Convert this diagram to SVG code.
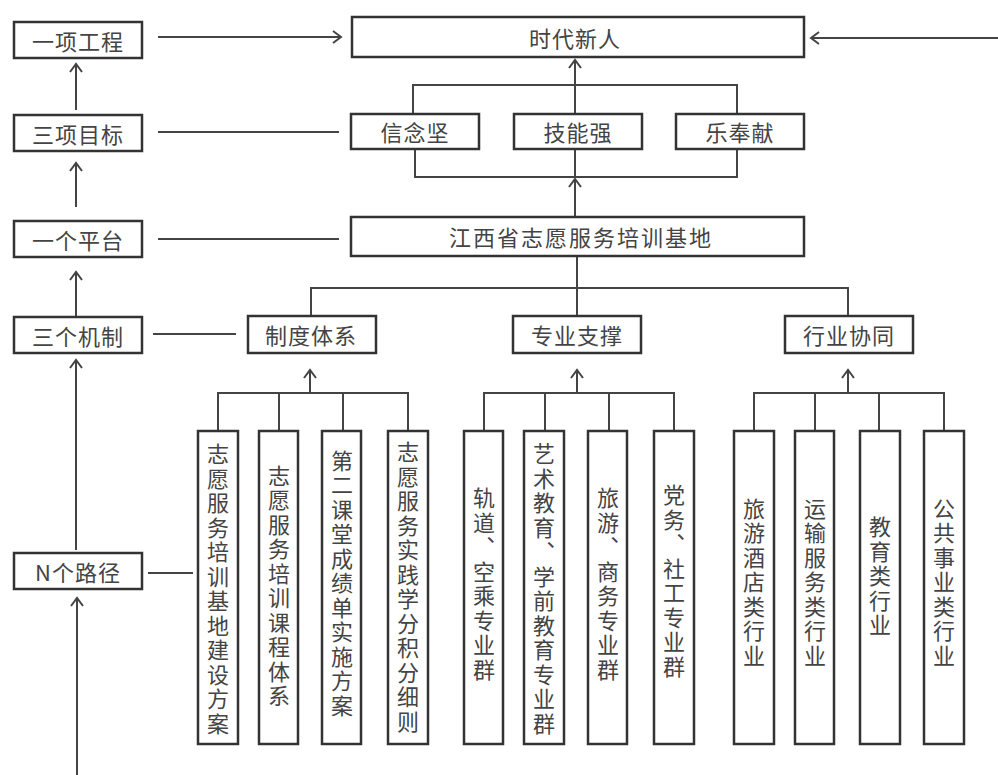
<svg xmlns="http://www.w3.org/2000/svg" width="998" height="775" viewBox="0 0 998 775">
<style>
.box{fill:#fff;stroke:#333;stroke-width:2.5}
.ln{fill:none;stroke:#444;stroke-width:2}
.t{font-family:"Noto Sans CJK SC","Noto Sans CJK JP",sans-serif;font-size:22px;fill:#444;text-anchor:middle;dominant-baseline:central;letter-spacing:1px}
.v{font-family:"Noto Sans CJK SC","Noto Sans CJK JP",sans-serif;font-size:22px;fill:#444;text-anchor:middle;writing-mode:vertical-rl;letter-spacing:2.5px}
</style>
<defs>
<marker id="a" markerUnits="userSpaceOnUse" markerWidth="20" markerHeight="20" viewBox="-10 -10 20 20" refX="0" refY="0" orient="auto">
<path d="M-8,-6 L0,0 L-8,6" fill="none" stroke="#444" stroke-width="2"/>
</marker>
</defs>
<rect width="998" height="775" fill="#fff"/>
<g id="connectors">
<path class="ln" d="M158,37 H341" marker-end="url(#a)"/>
<path class="ln" d="M998,38 H811" marker-end="url(#a)"/>
<path class="ln" d="M76,110 V64" marker-end="url(#a)"/>
<path class="ln" d="M76,207 V163" marker-end="url(#a)"/>
<path class="ln" d="M76,316 V272" marker-end="url(#a)"/>
<path class="ln" d="M76,550 V360" marker-end="url(#a)"/>
<path class="ln" d="M77,775 V598" marker-end="url(#a)"/>
<path class="ln" d="M158,132 H339"/>
<path class="ln" d="M158,239 H339"/>
<path class="ln" d="M153,334 H236"/>
<path class="ln" d="M148,573 H193"/>
<path class="ln" d="M413,114 V85 H737 V114"/>
<path class="ln" d="M415,149 V177 H737 V149"/>
<path class="ln" d="M575,114 V60" marker-end="url(#a)"/>
<path class="ln" d="M575,217 V179" marker-end="url(#a)"/>
<path class="ln" d="M575,177 V149"/>
<path class="ln" d="M577,256 V316"/>
<path class="ln" d="M311,316 V288 H848 V316"/>
<path class="ln" d="M310,393 V370" marker-end="url(#a)"/>
<path class="ln" d="M577,393 V370" marker-end="url(#a)"/>
<path class="ln" d="M848,393 V370" marker-end="url(#a)"/>
<path class="ln" d="M218,431 V393 H408 V431 M279,393 V431 M343,393 V431"/>
<path class="ln" d="M484,431 V393 H674 V431 M545,393 V431 M609,393 V431"/>
<path class="ln" d="M754,431 V393 H944 V431 M815,393 V431 M879,393 V431"/>
</g>
<g id="n1"><rect class="box" x="14" y="22" width="128" height="36"/><text class="t" x="78" y="40">一项工程</text></g>
<g id="n2"><rect class="box" x="14" y="115" width="128" height="36"/><text class="t" x="78" y="133">三项目标</text></g>
<g id="n3"><rect class="box" x="14" y="221" width="128" height="36"/><text class="t" x="78" y="239">一个平台</text></g>
<g id="n4"><rect class="box" x="14" y="317" width="128" height="36"/><text class="t" x="78" y="335">三个机制</text></g>
<g id="n5"><rect class="box" x="14" y="553" width="128" height="36"/><text class="t" x="78" y="571">N个路径</text></g>
<g id="top"><rect class="box" x="352" y="17" width="452" height="40"/><text class="t" x="575" y="37">时代新人</text></g>
<g id="g1"><rect class="box" x="351" y="114" width="128" height="35"/><text class="t" x="415" y="131">信念坚</text></g>
<g id="g2"><rect class="box" x="514" y="114" width="128" height="35"/><text class="t" x="578" y="131">技能强</text></g>
<g id="g3"><rect class="box" x="676" y="114" width="128" height="35"/><text class="t" x="740" y="131">乐奉献</text></g>
<g id="base"><rect class="box" x="351" y="217" width="453" height="39"/><text class="t" x="581" y="236" style="letter-spacing:2px">江西省志愿服务培训基地</text></g>
<g id="m1"><rect class="box" x="248" y="316" width="128" height="37"/><text class="t" x="311" y="334">制度体系</text></g>
<g id="m2"><rect class="box" x="513" y="316" width="128" height="37"/><text class="t" x="577" y="334">专业支撑</text></g>
<g id="m3"><rect class="box" x="785" y="316" width="128" height="37"/><text class="t" x="849" y="334">行业协同</text></g>
<g id="b1"><rect class="box" x="198" y="431" width="40" height="313"/><text class="v" x="218" y="590">志愿服务培训基地建设方案</text></g>
<g id="b2"><rect class="box" x="259" y="431" width="39" height="313"/><text class="v" x="279" y="587">志愿服务培训课程体系</text></g>
<g id="b3"><rect class="box" x="322" y="431" width="39" height="313"/><text class="v" x="342" y="584">第二课堂成绩单实施方案</text></g>
<g id="b4"><rect class="box" x="388" y="431" width="40" height="313"/><text class="v" x="408" y="588">志愿服务实践学分积分细则</text></g>
<g id="b5"><rect class="box" x="464" y="431" width="39" height="313"/><text class="v" x="484" y="585">轨道、空乘专业群</text></g>
<g id="b6"><rect class="box" x="524" y="431" width="40" height="313"/><text class="v" x="544" y="590">艺术教育、学前教育专业群</text></g>
<g id="b7"><rect class="box" x="588" y="431" width="39" height="313"/><text class="v" x="608" y="585">旅游、商务专业群</text></g>
<g id="b8"><rect class="box" x="654" y="431" width="40" height="313"/><text class="v" x="674" y="582">党务、社工专业群</text></g>
<g id="b9"><rect class="box" x="734" y="431" width="40" height="313"/><text class="v" x="754" y="583">旅游酒店类行业</text></g>
<g id="b10"><rect class="box" x="795" y="431" width="39" height="313"/><text class="v" x="815" y="583">运输服务类行业</text></g>
<g id="b11"><rect class="box" x="860" y="431" width="40" height="313"/><text class="v" x="880" y="577">教育类行业</text></g>
<g id="b12"><rect class="box" x="924" y="431" width="40" height="313"/><text class="v" x="944" y="583">公共事业类行业</text></g>
</svg>
